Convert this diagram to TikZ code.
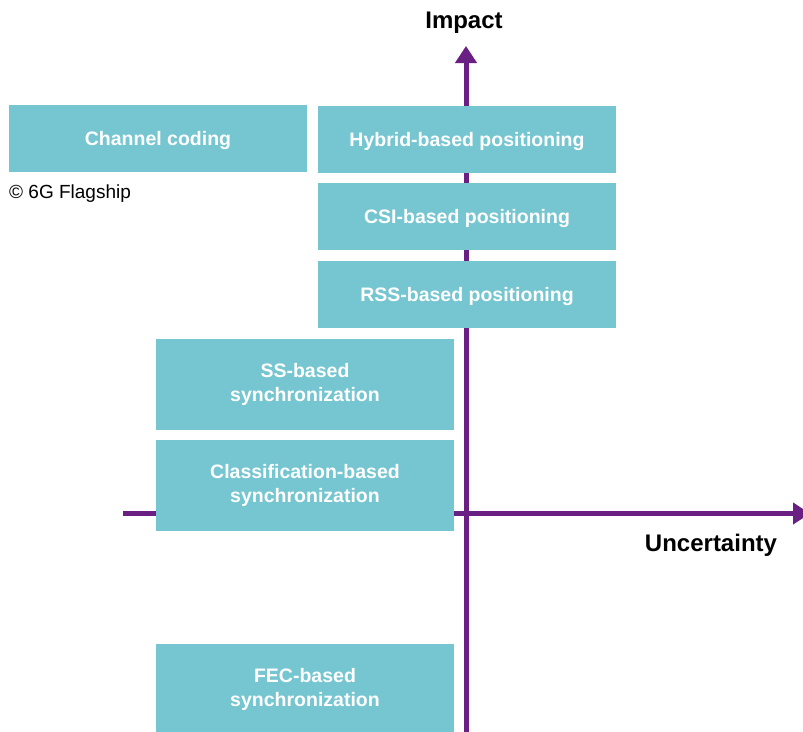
\documentclass[tikz,border=0pt]{standalone}
\usepackage{fontspec}
\setmainfont{Liberation Sans}
\usetikzlibrary{arrows.meta}
\definecolor{boxteal}{RGB}{117,198,208}
\definecolor{axispurple}{RGB}{106,32,131}

\begin{document}
\begin{tikzpicture}[x=1pt,y=-1pt,
  quadbox/.style={fill=boxteal,text=white,font=\fontsize{19.5}{23.5}\selectfont\bfseries,
    minimum width=298pt,align=center,inner sep=0pt},
  shortbox/.style={quadbox,minimum height=67pt,text height=18pt,text depth=4pt},
  tallbox/.style={quadbox,minimum height=91pt},
  axis/.style={draw=axispurple,line width=5pt,-{Triangle[width=21pt,length=17pt]}},
  axislabel/.style={font=\fontsize{24}{28}\selectfont\bfseries}]
\useasboundingbox (0,0) rectangle (803,731);

% axes
\coordinate (ybottom) at (466,736);
\coordinate (ytop) at (466,46);
\coordinate (xleft) at (123,513.5);
\coordinate (xright) at (810,513.5);
\draw[axis] (ybottom) -- (ytop);
\draw[axis] (xleft) -- (xright);
\node[axislabel,anchor=base] (impact) at (464,28) {Impact};
\node[axislabel,anchor=base] (uncertainty) at (711,551) {Uncertainty};

% top row
\node[shortbox] (channel) at (158,138.5) {Channel coding};
\node[anchor=base west,inner sep=0pt,font=\fontsize{19}{22}\selectfont] (credit) at (9,198) {© 6G Flagship};

% positioning
\node[shortbox] (hybrid) at (467,139.5) {Hybrid-based positioning};
\node[shortbox] (csi) at (467,216.5) {CSI-based positioning};
\node[shortbox] (rss) at (467,294.5) {RSS-based positioning};

% synchronization
\node[tallbox] (ss) at (305,384.5) {SS-based\\synchronization};
\node[tallbox] (classif) at (305,485.5) {Classification-based\\synchronization};
\node[tallbox] (fec) at (305,689.5) {FEC-based\\synchronization};
\end{tikzpicture}
\end{document}
